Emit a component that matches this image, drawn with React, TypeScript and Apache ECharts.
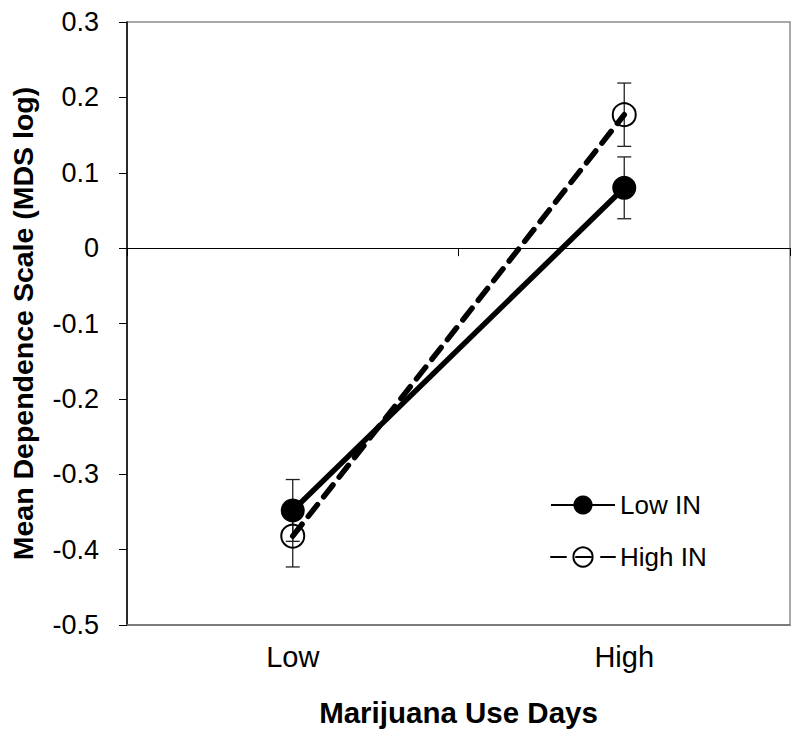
import React, { useEffect, useRef } from "react";
import * as echarts from "echarts";

const categories = ["Low", "High"];
const lowIN = [-0.348, 0.08];
const lowINErr = [0.041, 0.041];
const highIN = [-0.382, 0.177];
const highINErr = [0.041, 0.042];
const yTicks = [-0.5, -0.4, -0.3, -0.2, -0.1, 0, 0.1, 0.2, 0.3];

const FONT = "Liberation Sans, Arial, sans-serif";

export default function App() {
  const ref = useRef<HTMLDivElement>(null);
  useEffect(() => {
    if (!ref.current) return;
    const chart = echarts.init(ref.current, null, { renderer: "svg" });
    const errData: number[][] = [];
    categories.forEach((_, i) => {
      errData.push([i, lowIN[i] - lowINErr[i], lowIN[i] + lowINErr[i]]);
      errData.push([i, highIN[i] - highINErr[i], highIN[i] + highINErr[i]]);
    });
    chart.setOption({
      animation: false,
      textStyle: { fontFamily: FONT },
      grid: {
        left: 121,
        right: 10,
        top: 22,
        bottom: 114,
        show: true,
        borderColor: "#8c8c8c",
        borderWidth: 1.5,
      },
      legend: {
        orient: "vertical",
        left: 545,
        top: 487,
        itemGap: 26,
        itemWidth: 64,
        itemHeight: 24,
        textStyle: { fontSize: 26, lineHeight: 26, color: "#000", fontFamily: FONT },
        data: ["Low IN", "High IN"],
      },
      xAxis: [
        {
          type: "category",
          data: categories,
          boundaryGap: true,
          axisLine: { onZero: true, lineStyle: { color: "#000", width: 1 } },
          axisTick: { show: true, length: 8, lineStyle: { color: "#000" } },
          axisLabel: { show: false },
        },
        {
          type: "category",
          data: categories,
          boundaryGap: true,
          position: "bottom",
          axisLine: { onZero: false, lineStyle: { color: "#6e6e6e", width: 1.5 } },
          axisTick: { show: false },
          axisLabel: { fontSize: 29, color: "#000", margin: 17, fontFamily: FONT },
          name: "Marijuana Use Days",
          nameLocation: "middle",
          nameGap: 72,
          nameTextStyle: { fontSize: 29.5, fontWeight: "bold", color: "#000", fontFamily: FONT },
        },
      ],
      yAxis: {
        type: "value",
        min: -0.5,
        max: 0.3,
        interval: 0.1,
        splitLine: { show: false },
        axisLine: { show: true, onZero: false, lineStyle: { color: "#000", width: 1.5 } },
        axisTick: { show: true, inside: false, length: 8, lineStyle: { color: "#000" } },
        axisLabel: {
          fontSize: 27,
          color: "#000",
          margin: 28,
          fontFamily: FONT,
          formatter: (v: number) => {
            const t = yTicks.find((x) => Math.abs(x - v) < 1e-9);
            const val = t === undefined ? v : t;
            return Math.abs(val) < 1e-9 ? "0" : val.toFixed(1);
          },
        },
        name: "Mean Dependence Scale (MDS log)",
        nameLocation: "middle",
        nameGap: 90,
        nameTextStyle: { fontSize: 28.5, fontWeight: "bold", color: "#000", fontFamily: FONT },
      },
      series: [
        {
          type: "custom",
          xAxisIndex: 1,
          z: 1,
          silent: true,
          data: errData,
          renderItem: (params: any, api: any) => {
            const x = api.value(0);
            const lo = api.coord([x, api.value(1)]);
            const hi = api.coord([x, api.value(2)]);
            const hw = 7;
            const style = { stroke: "#222", lineWidth: 1.3 };
            return {
              type: "group",
              children: [
                { type: "line", shape: { x1: lo[0], y1: lo[1], x2: hi[0], y2: hi[1] }, style },
                { type: "line", shape: { x1: lo[0] - hw, y1: lo[1], x2: lo[0] + hw, y2: lo[1] }, style },
                { type: "line", shape: { x1: hi[0] - hw, y1: hi[1], x2: hi[0] + hw, y2: hi[1] }, style },
              ],
            };
          },
        },
        {
          name: "Low IN",
          type: "line",
          xAxisIndex: 1,
          z: 3,
          data: lowIN,
          symbol: "circle",
          symbolSize: 24,
          lineStyle: { color: "#000", width: 5.5 },
          itemStyle: { color: "#000" },
        },
        {
          name: "High IN",
          type: "line",
          xAxisIndex: 1,
          z: 2,
          data: highIN,
          symbol: "circle",
          symbolSize: 23,
          lineStyle: { color: "#000", width: 5.5, type: [15, 10], cap: "round" },
          itemStyle: { color: "rgba(255,255,255,0)", borderColor: "#000", borderWidth: 2 },
        },
      ],
    });
    return () => chart.dispose();
  }, []);
  return <div ref={ref} style={{ width: 800, height: 739, margin: -8 }} />;
}
